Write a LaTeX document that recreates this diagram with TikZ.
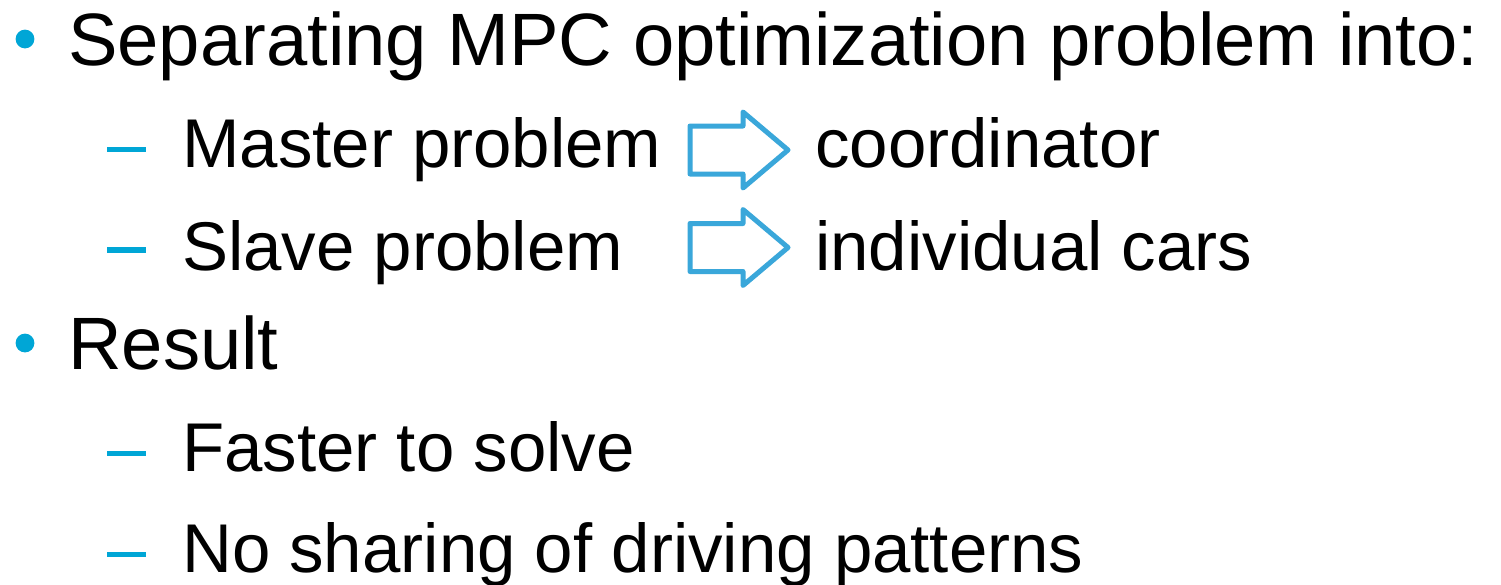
\documentclass[tikz,border=0pt]{standalone}
\usepackage{fontspec}
\setmainfont{Liberation Sans}
\definecolor{bulletblue}{HTML}{00A6D6}
\definecolor{arrowblue}{HTML}{3AA7DA}
\begin{document}
\begin{tikzpicture}[x=1pt,y=-1pt,
  lvlone/.style={anchor=base west,inner sep=0pt,font=\fontsize{74.2}{80}\selectfont},
  lvltwo/.style={anchor=base west,inner sep=0pt,font=\fontsize{69}{75}\selectfont},
  dot/.style={fill=bulletblue,draw=none},
  dashmark/.style={fill=bulletblue,draw=none},
  blockarrow/.style={draw=arrowblue,line width=5pt,line join=round,fill=white}]
\useasboundingbox (0,0) rectangle (1501,584);

% first-level bullets
\fill[dot] (25,39) circle (9.4);
\fill[dot] (25,343) circle (9.4);

% second-level dashes
\foreach \y in {149.5,250,453.5,554.5}
  \fill[dashmark] (107,\y-2.8) rectangle (146,\y+2.8);

% text lines
\node[lvlone] (sep) at (68,65) {Separating MPC optimization problem into:};
\node[lvltwo] (master) at (182,167) {Master problem};
\node[lvltwo] (coord) at (815,167) {coordinator};
\node[lvltwo] (slave) at (182,270) {Slave problem};
\node[lvltwo] (cars) at (815,270) {individual cars};
\node[lvlone] (result) at (68,369) {Result};
\node[lvltwo] (faster) at (182,471) {Faster to solve};
\node[lvltwo] (nosharing) at (182,572) {No sharing of driving patterns};

% outlined block arrows
\foreach \c in {150,247.5}
  \draw[blockarrow] (690,\c-24) -- (743,\c-24) -- (743,\c-38) -- (788,\c)
    -- (743,\c+38) -- (743,\c+24) -- (690,\c+24) -- cycle;
\end{tikzpicture}
\end{document}
